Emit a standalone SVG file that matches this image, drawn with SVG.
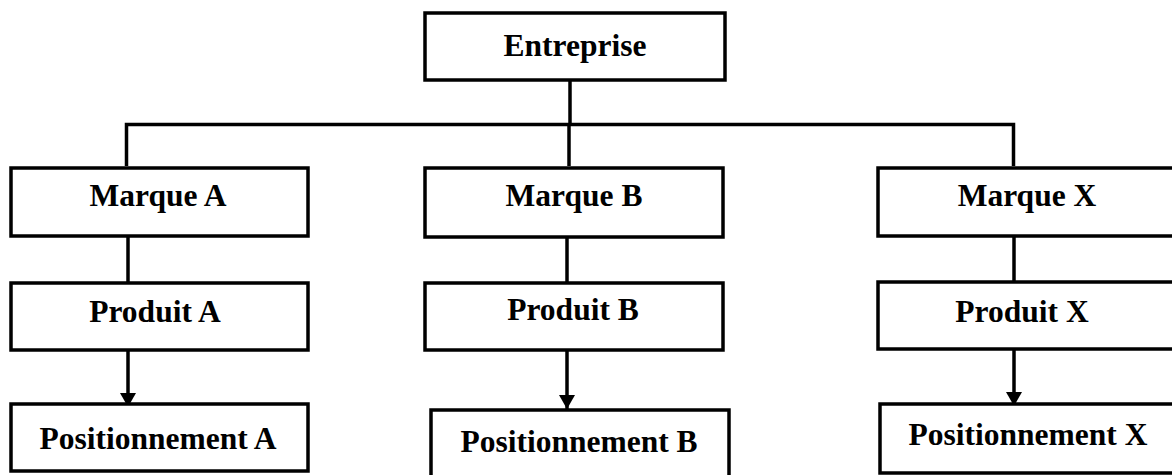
<svg xmlns="http://www.w3.org/2000/svg" width="1172" height="475" viewBox="0 0 1172 475">
<defs>
<style>
.box{fill:#fff;stroke:#000;stroke-width:3.5}
.lbl{font-family:"Liberation Serif","Times New Roman",serif;font-weight:bold;font-size:31.5px;fill:#000;text-anchor:middle}
.ln{fill:none;stroke:#000;stroke-width:3.5}
.arr{fill:none;stroke:#000;stroke-width:3.5;marker-end:url(#ah)}
</style>
<marker id="ah" markerUnits="userSpaceOnUse" markerWidth="14" markerHeight="16" refX="14" refY="8" orient="auto" viewBox="0 0 14 16">
<path d="M0,0 L14,8 L0,16 Z" fill="#000"/>
</marker>
</defs>
<rect width="1172" height="475" fill="#fff"/>
<g id="connectors">
<path class="ln" d="M570,80 V124.5"/>
<path class="ln" d="M126.5,166 V124.5 H1013.5 V166"/>
<path class="ln" d="M569,124.5 V166"/>
<path class="ln" d="M128,236 V283"/>
<path class="ln" d="M567,237 V283"/>
<path class="ln" d="M1014,236 V282"/>
<path class="arr" d="M128,350 V407"/>
<path class="arr" d="M567,350 V409"/>
<path class="arr" d="M1014,349 V406"/>
</g>
<g id="entreprise">
<rect class="box" x="425" y="13" width="300" height="67"/>
<text class="lbl" x="575" y="56">Entreprise</text>
</g>
<g id="marqueA">
<rect class="box" x="11" y="168" width="297" height="68"/>
<text class="lbl" x="158" y="206">Marque A</text>
</g>
<g id="produitA">
<rect class="box" x="11" y="283" width="297" height="67"/>
<text class="lbl" x="155" y="322">Produit A</text>
</g>
<g id="positionnementA">
<rect class="box" x="11" y="404" width="297" height="67"/>
<text class="lbl" x="158" y="449">Positionnement A</text>
</g>
<g id="marqueB">
<rect class="box" x="425" y="168" width="298" height="69"/>
<text class="lbl" x="574" y="206">Marque B</text>
</g>
<g id="produitB">
<rect class="box" x="425" y="283" width="298" height="67"/>
<text class="lbl" x="573" y="320">Produit B</text>
</g>
<g id="positionnementB">
<rect class="box" x="431" y="410" width="298" height="70"/>
<text class="lbl" x="579" y="452">Positionnement B</text>
</g>
<g id="marqueX">
<rect class="box" x="878" y="168" width="310" height="68"/>
<text class="lbl" x="1027" y="206">Marque X</text>
</g>
<g id="produitX">
<rect class="box" x="878" y="282" width="310" height="67"/>
<text class="lbl" x="1022" y="322">Produit X</text>
</g>
<g id="positionnementX">
<rect class="box" x="880" y="404" width="310" height="69"/>
<text class="lbl" x="1028" y="445">Positionnement X</text>
</g>
</svg>
